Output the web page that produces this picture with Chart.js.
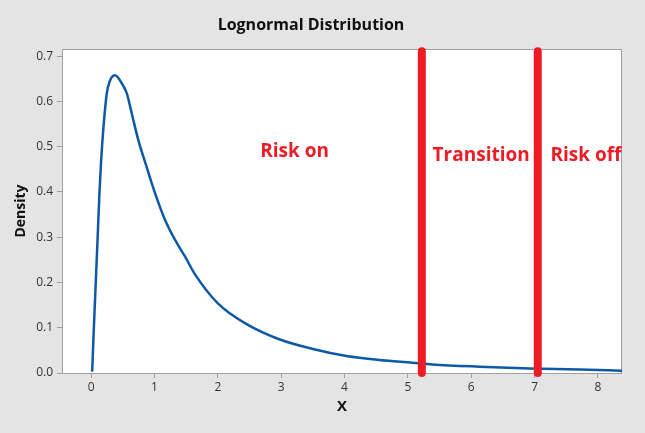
<!DOCTYPE html>
<html>
<head>
<meta charset="utf-8">
<script src="https://cdn.jsdelivr.net/npm/chart.js@4"></script>
<style>
html,body{margin:0;padding:0;background:#e4e4e4;}
#wrap{width:645px;height:433px;}
</style>
</head>
<body>
<div id="wrap"><canvas id="c" width="645" height="433"></canvas></div>
<script>
// Curve
const curveX = [0.016, 0.043, 0.079, 0.105, 0.131, 0.158, 0.195, 0.247, 0.30, 0.379, 0.484, 0.563, 0.642, 0.746, 0.877, 1.01, 1.167, 1.325, 1.483, 1.64, 2.0, 2.455, 2.98, 3.5, 4.03, 4.55, 5.07, 5.39, 6.13, 6.92, 7.71, 8.38];
const curveY = [0.003, 0.1, 0.22, 0.308, 0.397, 0.470, 0.544, 0.618, 0.647, 0.658, 0.640, 0.618, 0.573, 0.514, 0.455, 0.397, 0.338, 0.294, 0.257, 0.218, 0.154, 0.108, 0.074, 0.053, 0.0375, 0.0287, 0.0228, 0.019, 0.014, 0.010, 0.008, 0.005];
// Regime thresholds (vertical red lines)
const thresholds = [5.22, 7.05];
const thresholdTop = 0.711;
// Regime labels
const regimeLabels = ["Risk on", "Transition", "Risk off"];
const regimeLabelX = [2.67, 5.39, 7.25];
const regimeLabelY = [0.478, 0.469, 0.469];
const xTicks = [0,1,2,3,4,5,6,7,8];
const yTicks = [0.0,0.1,0.2,0.3,0.4,0.5,0.6,0.7];

const FONT = "'Open Sans', 'Noto Sans', sans-serif";

const curveData = curveX.map((x,i)=>({x:x, y:curveY[i]}));
const lineSets = thresholds.map(t => ({
  data:[{x:t,y:0},{x:t,y:thresholdTop}],
  borderColor:'#ed1c24', borderWidth:8, borderCapStyle:'round',
  pointRadius:0, showLine:true, clip:false, order:0
}));

const frame = {
  id:'frame',
  beforeDatasetsDraw(chart){
    const a = chart.chartArea, ctx = chart.ctx;
    ctx.save();
    ctx.fillStyle = '#ffffff';
    ctx.fillRect(a.left, a.top, a.right-a.left, a.bottom-a.top);
    ctx.strokeStyle = '#a0a0a0';
    ctx.lineWidth = 1;
    ctx.strokeRect(a.left+0.5, a.top+0.5, a.right-a.left-1, a.bottom-a.top);
    ctx.restore();
  },
  afterDatasetsDraw(chart){
    const ctx = chart.ctx, sx = chart.scales.x, sy = chart.scales.y;
    ctx.save();
    ctx.fillStyle = '#ed1c24';
    ctx.font = "bold 19px " + FONT;
    ctx.textAlign = 'left';
    ctx.textBaseline = 'alphabetic';
    regimeLabels.forEach((t,i)=>{
      ctx.fillText(t, sx.getPixelForValue(regimeLabelX[i]), sy.getPixelForValue(regimeLabelY[i]));
    });
    ctx.restore();
  }
};

new Chart(document.getElementById('c'), {
  type:'scatter',
  data:{datasets:[
    {data:curveData, showLine:true, borderColor:'#0c5aa6', borderWidth:2.5, pointRadius:0,
     cubicInterpolationMode:'monotone', order:1},
    ...lineSets
  ]},
  options:{
    responsive:false, animation:false,
    devicePixelRatio:1,
    layout:{padding:{left:0,right:23,top:0,bottom:0}},
    plugins:{
      legend:{display:false}, tooltip:{enabled:false},
      title:{display:true, text:'Lognormal Distribution', color:'#111',
        font:{family:FONT, size:16, weight:'bold', lineHeight:1.2},
        padding:{top:16, bottom:13.8}}
    },
    scales:{
      x:{type:'linear', min:-0.46, max:8.38,
        afterBuildTicks(s){ s.ticks = xTicks.map(v=>({value:v})); },
        afterFit(s){ s.height = 60; },
        ticks:{includeBounds:false, color:'#333', padding:2, font:{family:FONT,size:12},
          callback:v=>String(v)},
        grid:{display:true, drawOnChartArea:false, drawTicks:true, tickLength:5, color:'#a0a0a0'},
        border:{display:false},
        title:{display:true, text:'X', color:'#111', font:{family:FONT,size:15,weight:'bold',lineHeight:1.2},
          padding:{top:0,bottom:17}}
      },
      y:{type:'linear', min:0, max:0.716,
        afterBuildTicks(s){ s.ticks = yTicks.map(v=>({value:v})); },
        afterFit(s){ s.width = 62; },
        ticks:{includeBounds:false, color:'#333', padding:4, font:{family:FONT,size:12},
          callback:v=>v.toFixed(1)},
        grid:{display:true, drawOnChartArea:false, drawTicks:true, tickLength:5, color:'#a0a0a0'},
        border:{display:false},
        title:{display:true, text:'Density', color:'#111', font:{family:FONT,size:14,weight:'bold',lineHeight:1.2},
          padding:{top:13,bottom:0}}
      }
    }
  },
  plugins:[frame]
});
</script>
</body>
</html>
